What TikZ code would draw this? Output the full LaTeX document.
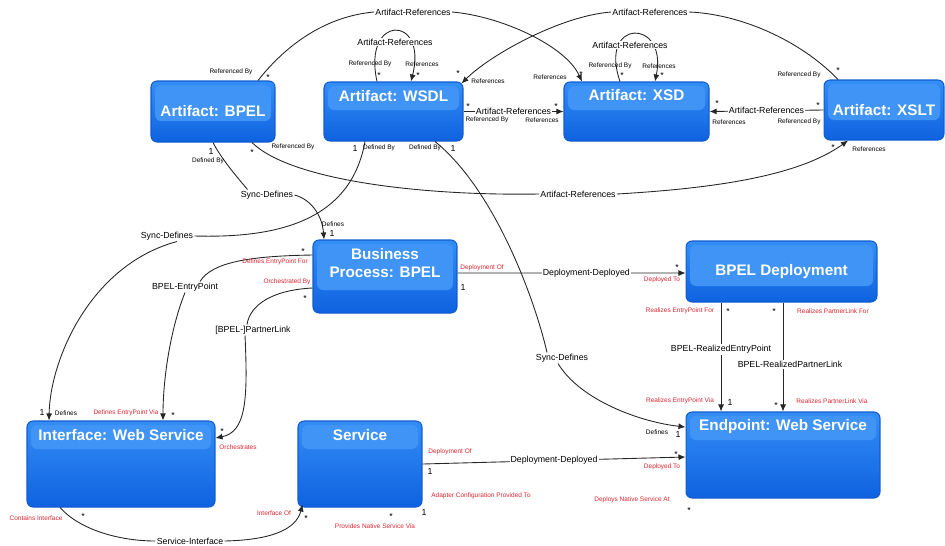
\documentclass[tikz,border=0pt]{standalone}
\usepackage{fontspec}
\setmainfont{Liberation Sans}
\usetikzlibrary{positioning, arrows.meta, calc}

\definecolor{boxtop}{RGB}{52,142,246}
\definecolor{boxbottom}{RGB}{14,98,224}
\definecolor{bandblue}{RGB}{64,148,246}
\definecolor{boxedge}{RGB}{18,92,205}
\definecolor{rolered}{RGB}{220,38,48}

\begin{document}
\begin{tikzpicture}[
  x=0.02cm, y=-0.02cm, >={Latex[length=4pt,width=3.4pt]},
  box/.style={draw=boxedge, line width=0.6pt, rounded corners=0.12cm,
              top color=boxtop, bottom color=boxbottom, text=white,
              inner sep=0pt, font=\fontsize{8.7}{10.2}\selectfont\bfseries},
  band/.style={path picture={\fill[bandblue]
      ([xshift=0.08cm,yshift=-0.08cm]path picture bounding box.north west) rectangle
      ([xshift=-0.08cm,yshift=-#1]path picture bounding box.north east);}},
  title/.style={text=white, inner sep=0pt, align=center,
                font=\fontsize{8.7}{10.2}\selectfont\bfseries},
  conn/.style={draw=black!85, line width=0.5pt},
  lbl/.style={font=\fontsize{5}{6}\selectfont, fill=white, inner sep=0.6pt},
  role/.style={font=\fontsize{3.7}{4.4}\selectfont, inner sep=0pt},
  redrole/.style={role, text=rolered},
  mult/.style={font=\fontsize{5}{6}\selectfont, inner sep=0pt},
]
\useasboundingbox (0,0) rectangle (945,545);

% Artifacts
\node[box, band=0.8cm, minimum width=2.48cm, minimum height=1.22cm] (abpel) at (213,111.5) {Artifact: BPEL};
\node[box, band=0.56cm, minimum width=2.78cm, minimum height=1.18cm] (awsdl) at (393.5,111.5) {};
\node[title] (tWsdl) at ([yshift=-0.3cm]awsdl.north) {Artifact: WSDL};
\node[box, band=0.56cm, minimum width=2.90cm, minimum height=1.18cm] (axsd) at (636.5,111.5) {};
\node[title] (tXsd) at ([yshift=-0.28cm]axsd.north) {Artifact: XSD};
\node[box, band=0.8cm, minimum width=2.40cm, minimum height=1.20cm] (axslt) at (884,110) {Artifact: XSLT};

% Process and deployment
\node[box, band=1.0cm, minimum width=2.88cm, minimum height=1.46cm] (bp) at (385,276.5) {};
\node[title] (tBp) at ([yshift=-0.48cm]bp.north) {Business\\Process: BPEL};
\node[box, band=0.9cm, minimum width=3.82cm, minimum height=1.22cm] (bpd) at (781.5,271.5) {BPEL Deployment};

% Services
\node[box, band=0.56cm, minimum width=3.76cm, minimum height=1.72cm] (iws) at (121,464) {};
\node[title] (tIws) at ([yshift=-0.3cm]iws.north) {Interface: Web Service};
\node[box, band=0.56cm, minimum width=2.48cm, minimum height=1.72cm] (svc) at (360,464) {};
\node[title] (tSvc) at ([yshift=-0.3cm]svc.north) {Service};
\node[box, band=0.56cm, minimum width=3.88cm, minimum height=1.72cm] (ews) at (783,455) {};
\node[title] (tEws) at ([yshift=-0.3cm]ews.north) {Endpoint: Web Service};

% Artifact-References, top arcs
\node[lbl] (arBX) at (413,12) {Artifact-References};
\draw[conn] ([xshift=0.9cm]abpel.north) .. controls (290,40) and (330,16) .. (arBX.west);
\draw[conn,->] (arBX.east) .. controls (500,16) and (565,45) .. ([xshift=-1.09cm]axsd.north);
\node[lbl] (arTW) at (650,12) {Artifact-References};
\draw[conn] ([xshift=-0.92cm]axslt.north) .. controls (800,40) and (740,14) .. (arTW.east);
\draw[conn,->] (arTW.west) .. controls (560,16) and (490,55) .. ([xshift=-0.04cm,yshift=-0.04cm]awsdl.north east);

% Self references
\draw[conn,->] ([xshift=-0.33cm]awsdl.north) .. controls (362,14) and (428,14) .. ([xshift=0.35cm]awsdl.north);
\node[lbl] (arWW) at (395,42) {Artifact-References};
\draw[conn,->] ([xshift=-0.33cm]axsd.north) .. controls (598,18) and (668,18) .. ([xshift=0.37cm]axsd.north);
\node[lbl] (arXX) at (630,45) {Artifact-References};

% Artifact-References, straight
\draw[conn,->] (awsdl.east) -- node[lbl] (arWX) {Artifact-References} (axsd.west);
\draw[conn,->] (axslt.west) -- node[lbl] (arTX) {Artifact-References} (axsd.east);

% Artifact-References, bottom arc
\node[lbl] (arBT) at (578,194) {Artifact-References};
\draw[conn] ([xshift=0.78cm]abpel.south) .. controls (290,180) and (420,196) .. (arBT.west);
\draw[conn,->] (arBT.east) .. controls (720,188) and (800,175) .. ([xshift=-0.72cm]axslt.south);

% Sync-Defines
\node[lbl] (sdA) at (267,195) {Sync-Defines};
\draw[conn] (abpel.south) .. controls (222,160) and (238,178) .. ([xshift=0.16cm]sdA.north west);
\draw[conn,->] (sdA.east) .. controls (310,199) and (322,214) .. ([xshift=-1.22cm]bp.north);
\node[lbl] (sdB) at (167,236) {Sync-Defines};
\draw[conn] ([xshift=-0.57cm]awsdl.south) .. controls (350,225) and (270,238) .. (sdB.east);
\draw[conn,->] ([xshift=0.2cm]sdB.south) .. controls (90,265) and (50,360) .. ([xshift=-1.44cm]iws.north);
\node[lbl] (sdC) at (562,358) {Sync-Defines};
\draw[conn] ([xshift=0.83cm]awsdl.south) .. controls (495,190) and (535,300) .. ([xshift=-0.3cm]sdC.north);
\draw[conn,->] ([xshift=-0.08cm]sdC.south) .. controls (580,400) and (640,422) .. ([yshift=0.56cm]ews.west);

% Entry point and partner link
\node[lbl] (bpelEp) at (185,287) {BPEL-EntryPoint};
\draw[conn] ([yshift=0.43cm]bp.west) .. controls (250,256) and (212,262) .. ([xshift=0.3cm]bpelEp.north);
\draw[conn,->] (bpelEp.south) .. controls (170,330) and (163,380) .. ([xshift=0.84cm]iws.north);
\node[lbl] (pLink) at (253,330) {[BPEL-]PartnerLink};
\draw[conn] ([yshift=-0.23cm]bp.west) .. controls (272,290) and (250,305) .. ([xshift=-0.12cm]pLink.north);
\draw[conn,->] ([xshift=-0.16cm]pLink.south) .. controls (248,400) and (246,432) .. ([yshift=0.52cm]iws.east);

% Deployment
\draw[conn,->] ([yshift=0.07cm]bp.east) -- node[lbl, pos=0.565] (dd1) {Deployment-Deployed} ([yshift=-0.03cm]bpd.west);
\draw[conn,->] ([xshift=-1.21cm]bpd.south) -- node[lbl, pos=0.43] (rEp) {BPEL-RealizedEntryPoint} ([xshift=-1.21cm]bpd.south |- ews.north);
\draw[conn,->] ([xshift=0.03cm]bpd.south) -- node[lbl, pos=0.57, xshift=0.14cm] (rPl) {BPEL-RealizedPartnerLink} ([xshift=0.03cm]bpd.south |- ews.north);
\draw[conn,->] (svc.east) -- node[lbl] (dd2) {Deployment-Deployed} ([yshift=-0.04cm]ews.west);

% Service-Interface
\node[lbl] (svcInt) at (190,541) {Service-Interface};
\draw[conn] ([xshift=-1.22cm]iws.south) .. controls (80,530) and (120,541) .. (svcInt.west);
\draw[conn,->] (svcInt.east) .. controls (270,540) and (296,530) .. ([xshift=0.1cm,yshift=0.06cm]svc.south west);

% Role names
\foreach \x/\y/\t [count=\i] in {231/72/Referenced By, 370/64/Referenced By, 422/64/References,
    293/147/Referenced By, 379/148/Defined By, 425/148/Defined By, 488/81/References,
    550/77/References, 610/66/Referenced By, 659/66/References, 487/120/Referenced By,
    542/120/References, 729/122/References, 799/122/Referenced By, 799/75/Referenced By,
    869/149/References, 208/161/Defined By, 333/224/Defines, 66/413/Defines, 657/432/Defines} {
  \node[role] (role\i) at (\x,\y) {\t};
}
\foreach \x/\y/\t [count=\i] in {275/262/Defines EntryPoint For, 287/282/Orchestrated By,
    482/268/Deployment Of, 662/280/Deployed To, 680/311/Realizes EntryPoint For,
    833/311/Realizes PartnerLink For, 680/401/Realizes EntryPoint Via,
    832/401/Realizes PartnerLink Via, 126/413/Defines EntryPoint Via, 238/447/Orchestrates,
    36/518/Contains Interface, 274/513/Interface Of, 450/452/Deployment Of,
    481/496/Adapter Configuration Provided To, 375/526/Provides Native Service Via,
    662/467/Deployed To, 632/500/Deploys Native Service At} {
  \node[redrole] (redrole\i) at (\x,\y) {\t};
}

% Multiplicities
\foreach \x/\y [count=\i] in {268/75, 379/73, 418/73, 458/71, 581/72, 622/73, 662/73, 468/104,
    556/104, 717/101, 818/103, 838/68, 833/145, 252/150, 303/249, 305/296, 677/265, 728/309,
    774/309, 776/403, 173/413, 222/429, 83/514, 306/516, 391/514, 676/452, 689/508} {
  \node[mult, yshift=-0.04cm] (many\i) at (\x,\y) {*};
}
\foreach \x/\y [count=\i] in {211/151, 355/148, 453/148, 332/233, 463/287, 730/402, 42/412,
    430/471, 424/512, 678/434} {
  \node[mult] (one\i) at (\x,\y) {1};
}

\end{tikzpicture}
\end{document}
